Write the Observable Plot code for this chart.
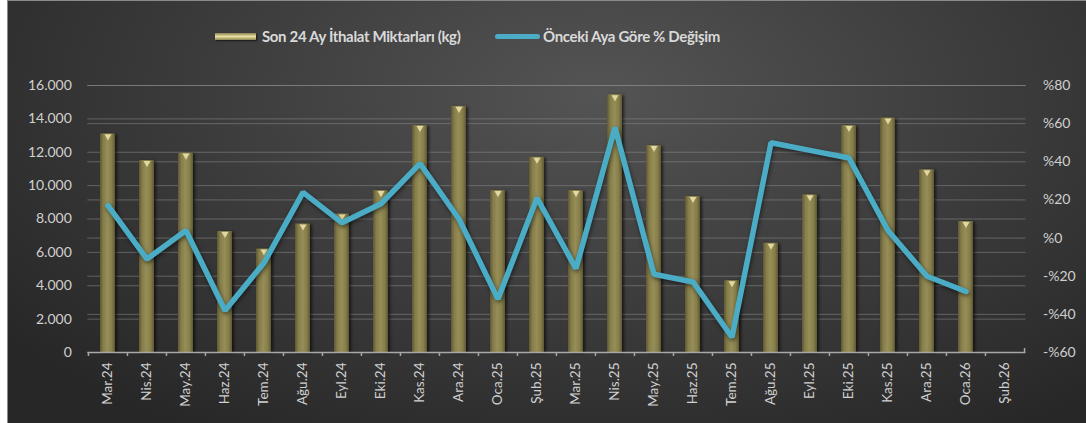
<!DOCTYPE html>
<html><head><meta charset="utf-8">
<script src="https://cdn.jsdelivr.net/npm/d3@7"></script>
<script src="https://cdn.jsdelivr.net/npm/@observablehq/plot@0.6"></script>
<style>
body{margin:0;background:#fff;width:1086px;height:423px;overflow:hidden;font-family:Lato,"Open Sans",sans-serif;}
#frame{position:absolute;left:7px;top:0;width:1079px;height:423px;box-sizing:border-box;border-left:1px solid #8a8a8a;border-top:1px solid #8a8a8a;
background:radial-gradient(ellipse 70% 95% at 55% 22%, #545454 0%, #3d3d3d 50%, #272727 100%);overflow:hidden;}
#legend{position:absolute;top:0;left:0;width:100%;height:59px;color:#d9d9d9;font-weight:bold;font-size:15px;letter-spacing:-0.35px;}
#legend .t{position:absolute;top:25px;line-height:20px;white-space:nowrap;}
#sw1{position:absolute;left:207px;top:32px;width:41px;height:7px;background:linear-gradient(#8c8450,#e9e0a2 50%,#8c8450);box-shadow:1px 1px 2px rgba(0,0,0,.6);}
#sw2{position:absolute;left:487px;top:33px;width:45px;height:5px;border-radius:3px;background:#4bacc6;}
#chart{position:absolute;left:0;top:59px;}
.bars{filter:drop-shadow(2px 1px 1.5px rgba(0,0,0,0.6));}
.pline{filter:drop-shadow(1px 2px 2px rgba(0,0,0,0.5));}
</style></head>
<body>
<div id="frame">
  <div id="legend">
    <div id="sw1"></div><div class="t" style="left:254px">Son 24 Ay İthalat Miktarları (kg)</div>
    <div id="sw2"></div><div class="t" style="left:535px">Önceki Aya Göre % Değişim</div>
  </div>
  <div id="chart"></div>
</div>
<script>
const months = ["Mar.24","Nis.24","May.24","Haz.24","Tem.24","Ağu.24","Eyl.24","Eki.24","Kas.24","Ara.24","Oca.25","Şub.25","Mar.25","Nis.25","May.25","Haz.25","Tem.25","Ağu.25","Eyl.25","Eki.25","Kas.25","Ara.25","Oca.26","Şub.26"];
const imports = [13100,11500,11950,7250,6200,7700,8300,9700,13600,14750,9700,11700,9700,15450,12400,9350,4300,6550,9450,13600,14050,10950,7850,null];
const change = [17,-11,4,-38,-13,24,8,18,39,10,-32,21,-16,58,-19,-23,-52,50,46,42,4,-20,-28,null];
const leftTicks = [0,2000,4000,6000,8000,10000,12000,14000,16000];
const rightTicks = [-60,-40,-20,0,20,40,60,80];

const toLeft = p => (p + 60) / 140 * 16000;
const fromLeft = v => Math.round(v / 16000 * 140 - 60);
const trFmt = d3.formatLocale({decimal:",", thousands:".", grouping:[3], currency:["",""]}).format(",d");
const pctFmt = v => { const p = fromLeft(v); return p < 0 ? "-%" + Math.abs(p) : "%" + p; };

const rows = months.map((m, i) => ({month: m, imports: imports[i], change: change[i]}));
const barRows = rows.filter(d => d.imports != null);
const lineRows = rows.filter(d => d.change != null);

const W = 1078, H = 364;
const mL = 79.3, mR = 60.5, mT = 25, mB = 72;
const step = (W - mL - mR) / months.length;

const chart = Plot.plot({
  width: W, height: H,
  marginLeft: mL, marginRight: mR, marginTop: mT, marginBottom: mB,
  style: {background: "transparent", color: "#d0d0d0", fontFamily: "Lato, 'Open Sans', sans-serif", overflow: "visible"},
  x: {domain: months, padding: 0},
  y: {domain: [0, 16000]},
  marks: [
    Plot.ruleY(leftTicks.filter(v => v > 0), {stroke: "#8a8a8a", strokeOpacity: 0.55}),
    Plot.ruleY(rightTicks.filter(v => v > -60).map(toLeft), {stroke: "#8a8a8a", strokeOpacity: 0.55}),
    Plot.barY(barRows, {x: "month", y: "imports", fill: "url(#barGrad)", insetLeft: 12, insetRight: 12, className: "bars"}),
    Plot.dot(barRows, {x: "month", y: "imports", symbol: "triangle", rotate: 180, r: 2.6, fill: "#efe6ad", fillOpacity: 0.85, stroke: "none", dy: 2.5}),
    Plot.ruleY([0], {stroke: "#a8a8a8", strokeWidth: 1.5}),
    Plot.ruleX(months, {x: d => d, y1: 0, y2: -240, dx: -step / 2, stroke: "#a8a8a8", strokeWidth: 1.5}),
    Plot.ruleX([months[months.length - 1]], {x: d => d, y1: 0, y2: 240, dx: step / 2, stroke: "#a8a8a8", strokeWidth: 1.5}),
    Plot.line(lineRows, {x: "month", y: d => toLeft(d.change), stroke: "#4bacc6", strokeWidth: 5.5, strokeLinejoin: "miter", strokeLinecap: "round", className: "pline"}),
    Plot.axisX({tickRotate: -90, tickSize: 0, tickPadding: 10, fontSize: 13.5, fill: "#d0d0d0", label: null}),
    Plot.axisY(leftTicks, {anchor: "left", tickSize: 0, tickPadding: 16, tickFormat: trFmt, fontSize: 14, fill: "#d0d0d0", label: null}),
    Plot.axisY(rightTicks.map(toLeft), {anchor: "right", tickSize: 0, tickPadding: 17, tickFormat: pctFmt, fontSize: 14, fill: "#d0d0d0", label: null})
  ]
});

const ns = "http://www.w3.org/2000/svg";
const defs = document.createElementNS(ns, "defs");
defs.innerHTML = '<linearGradient id="barGrad" x1="0" x2="1" y1="0" y2="0">' +
  '<stop offset="0" stop-color="#5f5832"/><stop offset="0.22" stop-color="#867e4b"/>' +
  '<stop offset="0.5" stop-color="#968d57"/><stop offset="0.78" stop-color="#867e4b"/>' +
  '<stop offset="1" stop-color="#5f5832"/></linearGradient>';
chart.insertBefore(defs, chart.firstChild);
const bg = chart.querySelector('g[aria-label="bar"]'); if (bg) bg.classList.add("bars");
const lg = chart.querySelector('g[aria-label="line"]'); if (lg) lg.classList.add("pline");
document.getElementById("chart").appendChild(chart);
</script>
</body></html>
